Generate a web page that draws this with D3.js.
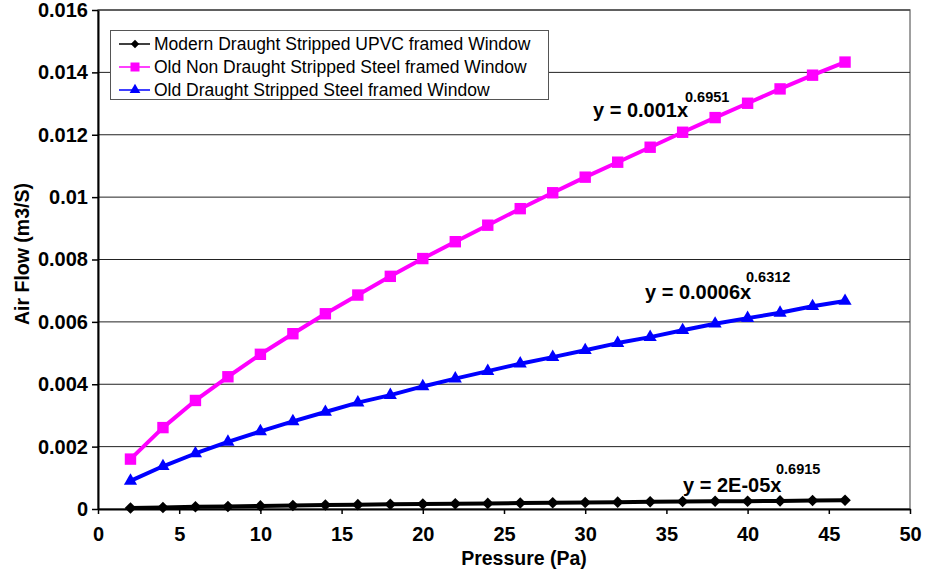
<!DOCTYPE html>
<html>
<head>
<meta charset="utf-8">
<script src="https://cdn.jsdelivr.net/npm/d3@7"></script>
<style>
  html, body { margin: 0; padding: 0; background: #fff; }
  svg { display: block; font-family: "Liberation Sans", Arial, sans-serif; }
</style>
</head>
<body>
<svg id="chart" width="929" height="574"></svg>
<script>
// ---------- data ----------
const pressure = [2, 4, 6, 8, 10, 12, 14, 16, 18, 20, 22, 24, 26, 28, 30, 32, 34, 36, 38, 40, 42, 44, 46];
const modernUPVC = [0.00003, 0.00005, 0.00007, 0.00008, 0.00010, 0.00011, 0.00013, 0.00014, 0.00015, 0.00016, 0.00017, 0.00018,
                    0.00019, 0.00020, 0.00021, 0.00022, 0.00023, 0.00024, 0.00025, 0.00025, 0.00026, 0.00027, 0.00028];
const oldNonDraught = [0.00160, 0.00261, 0.00348, 0.00424, 0.00496, 0.00562, 0.00626, 0.00686, 0.00746, 0.00803, 0.00857, 0.00910,
                       0.00963, 0.01014, 0.01064, 0.01112, 0.01160, 0.01208, 0.01255, 0.01301, 0.01347, 0.01391, 0.01433];
const oldDraught = [0.00090, 0.00137, 0.00178, 0.00215, 0.00249, 0.00281, 0.00311, 0.00341, 0.00365, 0.00393, 0.00418, 0.00442,
                    0.00466, 0.00487, 0.00509, 0.00532, 0.00551, 0.00573, 0.00594, 0.00612, 0.00629, 0.00650, 0.00667];
const seriesNames = ["Modern Draught Stripped UPVC framed Window", "Old Non Draught Stripped Steel framed Window", "Old Draught Stripped Steel framed Window"];
const equations = [["y = 2E-05x", "0.6915"], ["y = 0.001x", "0.6951"], ["y = 0.0006x", "0.6312"]];
const xTicks = [0, 5, 10, 15, 20, 25, 30, 35, 40, 45, 50];
const yTicks = [0, 0.002, 0.004, 0.006, 0.008, 0.01, 0.012, 0.014, 0.016];
const xTitle = "Pressure (Pa)";
const yTitle = "Air Flow (m3/S)";

// ---------- layout ----------
const svg = d3.select("#chart");
const L = 98, R = 910, T = 10, B = 509;
const x = d3.scaleLinear().domain([0, 50]).range([L, R]);
const y = d3.scaleLinear().domain([0, 0.016]).range([B, T]);
const FONT = "Liberation Sans, Arial, sans-serif";

// plot border
svg.append("rect").attr("x", L).attr("y", T).attr("width", R - L).attr("height", B - T)
  .attr("fill", "none").attr("stroke", "#808080").attr("stroke-width", 1.5);

// gridlines
svg.append("g").selectAll("line").data(yTicks.filter(d => d > 0)).join("line")
  .attr("x1", L).attr("x2", R).attr("y1", d => y(d)).attr("y2", d => y(d))
  .attr("stroke", "#222").attr("stroke-width", 1);

// axes
const xAxis = svg.append("g").attr("transform", `translate(0,${B})`)
  .call(d3.axisBottom(x).tickValues(xTicks).tickFormat(d3.format("d")).tickSize(5).tickSizeOuter(0).tickPadding(13));
const yAxis = svg.append("g").attr("transform", `translate(${L},0)`)
  .call(d3.axisLeft(y).tickValues(yTicks).tickFormat(d => d === 0 ? "0" : String(+d.toFixed(3))).tickSize(6).tickSizeOuter(0).tickPadding(4));
[xAxis, yAxis].forEach(g => {
  g.select(".domain").attr("stroke", "#000").attr("stroke-width", 2);
  g.selectAll(".tick line").attr("stroke", "#000").attr("stroke-width", 1.5);
  g.selectAll(".tick text").attr("fill", "#000").attr("font-family", FONT)
    .attr("font-weight", "bold").attr("font-size", 20);
});

// axis titles
svg.append("text").attr("x", 524).attr("y", 565).attr("text-anchor", "middle")
  .attr("font-family", FONT).attr("font-weight", "bold").attr("font-size", 19.5).text(xTitle);
svg.append("text").attr("transform", "translate(29,254) rotate(-90)").attr("text-anchor", "middle")
  .attr("font-family", FONT).attr("font-weight", "bold").attr("font-size", 19.5).text(yTitle);

// series
const series = [
  { name: seriesNames[0], values: modernUPVC, color: "#000000", symbol: d3.symbolDiamond2, size: 85, lsize: 45 },
  { name: seriesNames[1], values: oldNonDraught, color: "#FF00FF", symbol: d3.symbolSquare, size: 130, lsize: 81 },
  { name: seriesNames[2], values: oldDraught, color: "#0000FF", symbol: d3.symbolTriangle, size: 75, lsize: 50 }
];
const line = d3.line().x(d => x(d[0])).y(d => y(d[1]));
const drawOrder = [1, 2, 0];
drawOrder.forEach(i => {
  const s = series[i];
  const pts = pressure.map((p, j) => [p, s.values[j]]);
  const g = svg.append("g");
  g.append("path").datum(pts).attr("d", line).attr("fill", "none")
    .attr("stroke", s.color).attr("stroke-width", 4).attr("stroke-linejoin", "round");
  g.selectAll("path.m").data(pts).join("path").attr("class", "m")
    .attr("transform", d => `translate(${x(d[0])},${y(d[1])})`)
    .attr("d", d3.symbol().type(s.symbol).size(s.size)).attr("fill", s.color);
});

// equations
const eqPos = [[683, 492, 776, 474], [593, 117, 685, 102], [645, 299, 746, 282]];
equations.forEach((e, i) => {
  const p = eqPos[i];
  svg.append("text").attr("x", p[0]).attr("y", p[1]).attr("font-family", FONT).attr("font-weight", "bold")
    .attr("font-size", 20).text(e[0]);
  svg.append("text").attr("x", p[2]).attr("y", p[3]).attr("font-family", FONT).attr("font-weight", "bold")
    .attr("font-size", 14.5).text(e[1]);
});

// legend
const lg = svg.append("g");
lg.append("rect").attr("x", 110.5).attr("y", 30.5).attr("width", 438).attr("height", 69)
  .attr("fill", "#fff").attr("stroke", "#555").attr("stroke-width", 1);
series.forEach((s, i) => {
  const cy = 44 + i * 23;
  lg.append("line").attr("x1", 119).attr("x2", 150).attr("y1", cy).attr("y2", cy)
    .attr("stroke", s.color).attr("stroke-width", 1.5);
  lg.append("path").attr("transform", `translate(135,${cy})`)
    .attr("d", d3.symbol().type(s.symbol).size(s.lsize)).attr("fill", s.color);
  lg.append("text").attr("x", 154).attr("y", cy + 6).attr("font-family", FONT)
    .attr("font-size", 17.5).attr("fill", "#000").text(s.name);
});
</script>
</body>
</html>
